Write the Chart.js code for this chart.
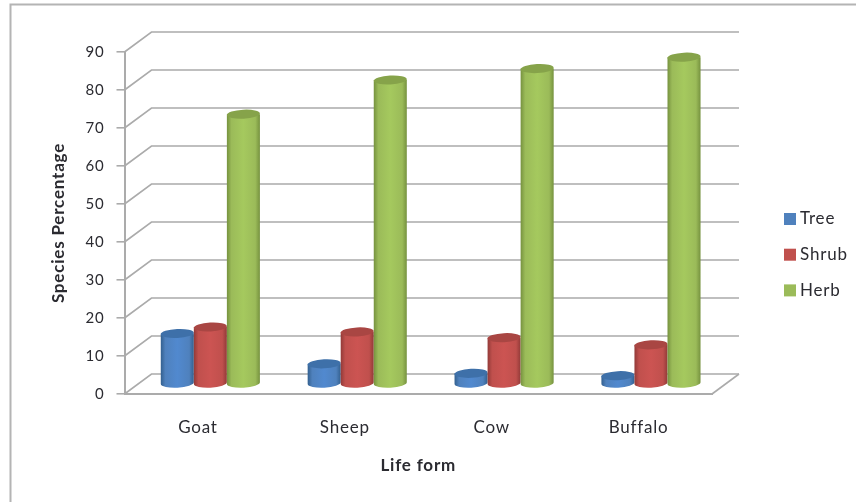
<!DOCTYPE html>
<html>
<head>
<meta charset="utf-8">
<title>Species Percentage by Life form</title>
<script src="https://cdn.jsdelivr.net/npm/chart.js@4"></script>
<style>
  html, body { margin: 0; padding: 0; background: #fff; }
  canvas { display: block; }
</style>
</head>
<body>
<canvas id="myChart" width="856" height="502"></canvas>
<script>
var categories = ["Goat", "Sheep", "Cow", "Buffalo"];
var tree = [13.3, 5.3, 2.8, 2.2];
var shrub = [15, 13.7, 12.2, 10.3];
var herb = [71, 80, 83, 86];
var seriesNames = ["Tree", "Shrub", "Herb"];
var seriesColors = ["#4F81BD", "#C0504D", "#9BBB59"];
var edgeColors = ["#33608F", "#923A38", "#76923F"];
var lightColors = ["#5189CF", "#CC5452", "#A5C95E"];
var capColors = ["#3E70A9", "#A94643", "#86A34A"];

var gridColor = "#ABABAB";
var textColor = "#2B2B31";
// how far the back wall sits behind the front of the floor
var depthX = 27;
var depthY = -20;

Chart.defaults.font.family = "Lato";
Chart.defaults.color = textColor;

function cylinder(ctx, bar, i) {
    var x = bar.x + depthX * 0.46;
    var top = bar.y + depthY / 2;
    var bottom = bar.base + depthY / 2;
    var rx = bar.width / 2;
    var ry = 4.5;
    var tilt = -0.05;

    var side = ctx.createLinearGradient(x - rx, 0, x + rx, 0);
    side.addColorStop(0, edgeColors[i]);
    side.addColorStop(0.14, seriesColors[i]);
    side.addColorStop(0.5, lightColors[i]);
    side.addColorStop(0.86, seriesColors[i]);
    side.addColorStop(1, edgeColors[i]);

    ctx.beginPath();
    ctx.moveTo(x - rx, top);
    ctx.lineTo(x - rx, bottom);
    ctx.ellipse(x, bottom, rx, ry, tilt, Math.PI, 0, true);
    ctx.lineTo(x + rx, top);
    ctx.closePath();
    ctx.fillStyle = side;
    ctx.fill();

    ctx.beginPath();
    ctx.ellipse(x, top, rx, ry, tilt, 0, Math.PI * 2);
    ctx.fillStyle = capColors[i];
    ctx.fill();
}

var scene = {
    id: "scene",
    beforeDraw: function(chart) {
        var ctx = chart.ctx;
        // all the labels run a little wider than Lato's default spacing
        ctx.letterSpacing = "0.8px";

        // outer frame, open at the right and bottom
        ctx.save();
        ctx.strokeStyle = "#B4B4B4";
        ctx.lineWidth = 2;
        ctx.beginPath();
        ctx.moveTo(10.5, 502);
        ctx.lineTo(10.5, 4.5);
        ctx.lineTo(856, 4.5);
        ctx.stroke();
        ctx.restore();
    },
    beforeDatasetsDraw: function(chart) {
        var ctx = chart.ctx;
        var y = chart.scales.y;
        var left = chart.chartArea.left;
        var right = chart.chartArea.right;

        // wall grid lines and the side of the floor
        ctx.save();
        ctx.strokeStyle = gridColor;
        ctx.lineWidth = 1.6;
        y.ticks.forEach(function(t) {
            var py = y.getPixelForValue(t.value);
            ctx.beginPath();
            ctx.moveTo(left, py);
            ctx.lineTo(left + depthX, py + depthY);
            ctx.lineTo(right + depthX, py + depthY);
            ctx.stroke();
        });
        var y0 = y.getPixelForValue(0);
        ctx.beginPath();
        ctx.moveTo(right, y0);
        ctx.lineTo(right + depthX, y0 + depthY);
        ctx.stroke();
        ctx.restore();

        // left to right so each cylinder overlaps the one before it
        chart.data.datasets.forEach(function(ds, i) {
            chart.getDatasetMeta(i).data.forEach(function(bar) {
                cylinder(ctx, bar, i);
            });
        });
        return false;
    },
    afterDraw: function(chart) {
        var ctx = chart.ctx;
        ctx.save();
        ctx.font = "17px Lato";
        ctx.textBaseline = "middle";
        chart.data.datasets.forEach(function(ds, i) {
            var rowY = 219 + i * 35.7;
            ctx.fillStyle = seriesColors[i];
            ctx.fillRect(784, rowY - 6, 12, 12);
            ctx.fillStyle = textColor;
            ctx.fillText(ds.label, 800, rowY);
        });
        ctx.restore();
    }
};

var ctx = document.getElementById("myChart").getContext("2d");
var myChart = new Chart(ctx, {
    type: "bar",
    data: {
        labels: categories,
        datasets: [
            { label: seriesNames[0], data: tree, backgroundColor: seriesColors[0] },
            { label: seriesNames[1], data: shrub, backgroundColor: seriesColors[1] },
            { label: seriesNames[2], data: herb, backgroundColor: seriesColors[2] }
        ]
    },
    plugins: [scene],
    options: {
        responsive: false,
        animation: false,
        layout: { padding: { left: 0, right: 144, top: 52, bottom: 0 } },
        categoryPercentage: 0.675,
        barPercentage: 1,
        plugins: { legend: { display: false }, tooltip: { enabled: false } },
        scales: {
            x: {
                grid: { display: false },
                border: { color: gridColor, width: 2 },
                ticks: { padding: 15, font: { size: 17 }, maxRotation: 0 },
                title: { display: true, text: "Life form", padding: { bottom: 26, top: 0 }, font: { size: 17, weight: "bold" } },
                afterFit: function(scale) { scale.height = 108; }
            },
            y: {
                min: 0,
                max: 90,
                grid: { drawOnChartArea: false, color: gridColor, lineWidth: 1.6, tickLength: 8 },
                border: { color: gridColor, width: 2 },
                ticks: { stepSize: 10, padding: 12, font: { size: 15 } },
                title: { display: true, text: "Species Percentage", padding: { top: 48, bottom: 0 }, font: { size: 17, weight: "bold" } },
                afterFit: function(scale) { scale.width = 124.5; }
            }
        }
    }
});
</script>
</body>
</html>
